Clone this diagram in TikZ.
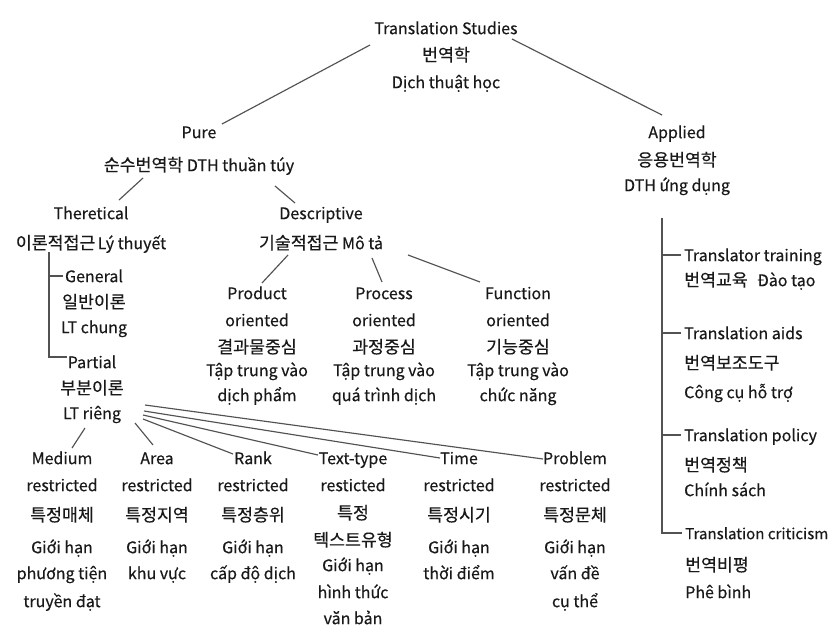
\documentclass[tikz,border=0pt]{standalone}
\usepackage{fontspec}
\setmainfont{Noto Sans CJK KR}[FakeBold=0.35]
\newfontfamily\krfont{Noto Sans CJK KR}[Scale=1.08,FakeBold=0.35]
\newcommand\K[1]{{\krfont #1}}
\usetikzlibrary{calc}
\newcommand\firstln{\rule{0pt}{16pt}}
\tikzset{
  lbl/.style={align=center, inner sep=0pt, anchor=north, font=\fontsize{16}{26}\selectfont, text=black!90},
  lblL/.style={lbl, align=left, anchor=north west},
  conn/.style={draw=black!68, line width=1.15pt},
}
\begin{document}
\begin{tikzpicture}[x=1pt,y=-1pt]
\useasboundingbox[fill=white] (0,0) rectangle (834,626);
% nodes
\node[lbl] (root) at (446,18) {\firstln Translation Studies\\[1pt]\K{번역학}\\[1pt]Dịch thuật học};
\node[lbl] (pure) at (199,122) {\firstln Pure\\[7pt]\K{순수번역학} DTH thuần túy};
\node[lbl] (applied) at (677,122) {\firstln Applied\\[2pt]\K{응용번역학}\\[-1pt]DTH ứng dụng};
\node[lbl] (theo) at (91,203) {\firstln Theretical\\[4pt]\K{이론적접근}\hspace{0.15em}Lý thuyết};
\node[lbl] (desc) at (321,203) {\firstln Descriptive\\[4pt]\K{기술적접근} Mô tả};
\node[lbl] (general) at (94,266) {\firstln General\\\K{일반이론}\\[-1pt]LT chung};
\node[lbl] (partial) at (92,352) {\firstln Partial\\\K{부분이론}\\[-1pt]LT riêng};
\node[lbl] (product) at (257,283) {\firstln Product\\[1pt]oriented\\[1pt]\K{결과물중심}\\[-3pt]Tập trung vào\\[-1pt]dịch phẩm};
\node[lbl] (process) at (384,283) {\firstln Process\\[1pt]oriented\\[1pt]\K{과정중심}\\[-3pt]Tập trung vào\\[-1pt]quá trình dịch};
\node[lbl] (function) at (518,283) {\firstln Function\\[1pt]oriented\\[1pt]\K{기능중심}\\[-3pt]Tập trung vào\\[-1pt]chức năng};
% applied branches
\node[lblL] (training) at (684,245) {\firstln Translator training\\[-1pt]\K{번역교육}\hspace{0.6em}Đào tạo};
\node[lblL] (aids) at (684,323) {\firstln Translation aids\\[4pt]\K{번역보조도구}\\[3pt]Công cụ hỗ trợ};
\node[lblL] (policy) at (684,425) {\firstln Translation policy\\[4pt]\K{번역정책}\\[-1pt]Chính sách};
\node[lblL] (crit) at (685,523) {\firstln {\fontsize{15.1}{26}\selectfont Translation criticism}\\[6pt]\K{번역비평}\\[1pt]Phê bình};
% partial branches
\node[lbl] (medium) at (62,448) {\firstln Medium\\[1pt]restricted\\[4pt]\K{특정매체}\\[6pt]Giới hạn\\phương tiện\\[2pt]truyền đạt};
\node[lbl] (area) at (157,448) {\firstln Area\\[1pt]restricted\\[4pt]\K{특정지역}\\[6pt]Giới hạn\\khu vực};
\node[lbl] (rank) at (253,448) {\firstln Rank\\[1pt]restricted\\[4pt]\K{특정층위}\\[6pt]Giới hạn\\cấp độ dịch};
\node[lbl] (texttype) at (353,448) {\firstln Text-type\\[1pt]resticted\\[2pt]\K{특정}\\[1pt]\K{텍스트유형}\\[-1pt]Giới hạn\\[1pt]hình thức\\văn bản};
\node[lbl] (time) at (459,448) {\firstln Time\\[1pt]restricted\\[4pt]\K{특정시기}\\[6pt]Giới hạn\\thời điểm};
\node[lbl] (problem) at (575,448) {\firstln Problem\\[1pt]restricted\\[4pt]\K{특정문체}\\[6pt]Giới hạn\\vấn đề\\[2pt]cụ thể};
% connectors
\draw[conn] ($(root.north)+(-76,27)$) -- ($(pure.north)+(23,2)$);
\draw[conn] ($(root.north)+(66,21)$) -- ($(applied.north)+(-15,-7)$);
\draw[conn] ($(pure.north)+(-56,56)$) -- ($(theo.north)+(28,-3)$);
\draw[conn] ($(pure.north)+(76,64)$) -- ($(desc.north)+(-26,0)$);
\draw[conn] ($(theo.north)+(-42,49)$) |- ($(partial.north)+(-25,5)$);
\draw[conn] ($(theo.north)+(-42,49)$) |- ($(general.north)+(-31,10)$);
\draw[conn] ($(desc.north)+(-33,52)$) -- ($(product.north)+(5,0)$);
\draw[conn] ($(desc.north)+(51,55)$) -- ($(process.north)+(-2,-1)$);
\draw[conn] ($(desc.north)+(87,52)$) -- ($(function.north)+(-38,-1)$);
\draw[conn] ($(partial.north)+(-7,76)$) -- ($(medium.north)+(10,0)$);
\draw[conn] ($(partial.north)+(43,71)$) -- ($(area.north)+(-4,-3)$);
\draw[conn] ($(partial.north)+(51,67)$) -- ($(rank.north)+(-20,6)$);
\draw[conn] ($(partial.north)+(51,63)$) -- ($(texttype.north)+(-35,7)$);
\draw[conn] ($(partial.north)+(52,59)$) -- ($(time.north)+(-19,10)$);
\draw[conn] ($(partial.north)+(53,53)$) -- ($(problem.north)+(-32,11)$);
\draw[conn] ($(applied.north)+(-15,96)$) |- ($(crit.north west)+(-3,10)$);
\draw[conn] ($(applied.north)+(-15,96)$) |- ($(training.north west)+(-3,10)$);
\draw[conn] ($(applied.north)+(-15,96)$) |- ($(aids.north west)+(-3,10)$);
\draw[conn] ($(applied.north)+(-15,96)$) |- ($(policy.north west)+(-3,10)$);
\end{tikzpicture}
\end{document}
